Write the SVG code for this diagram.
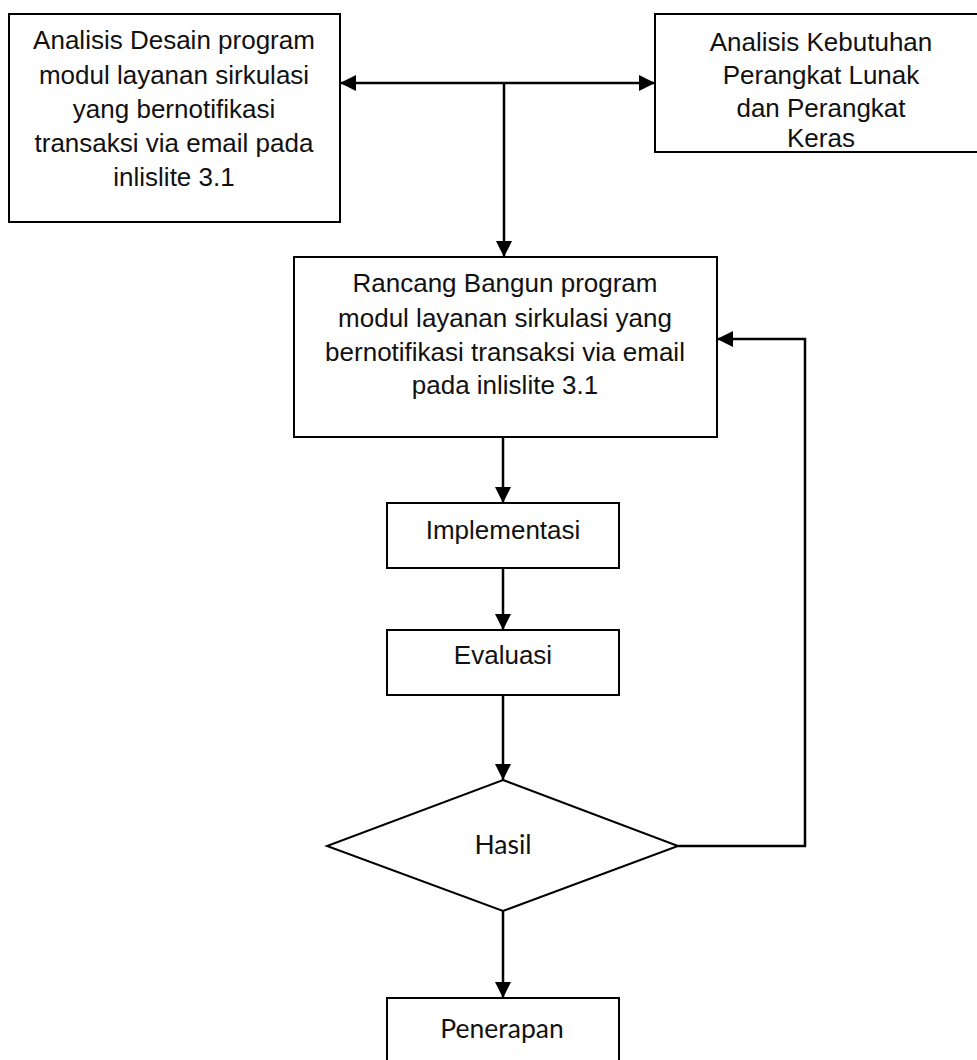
<svg xmlns="http://www.w3.org/2000/svg" width="977" height="1060" viewBox="0 0 977 1060">
<style>
.box{fill:#fff;stroke:#000;stroke-width:2}
.t{font-family:"Liberation Sans",Arial,sans-serif;font-size:26px;fill:#111;text-anchor:middle}
.c{font-family:Lato,"Open Sans",sans-serif;font-size:26.5px;fill:#111;text-anchor:middle}
.ln{fill:none;stroke:#000;stroke-width:2.5}
</style>
<defs>
<marker id="ah" markerUnits="userSpaceOnUse" markerWidth="16" markerHeight="16" refX="16" refY="8" orient="auto-start-reverse" viewBox="0 0 16 16">
<path d="M0,0 L16,8 L0,16 Z" fill="#000"/>
</marker>
</defs>
<rect width="977" height="1060" fill="#fff"/>
<g id="analisis-desain">
<rect class="box" x="9" y="14" width="331" height="208"/>
<text class="t" x="174" y="49">Analisis Desain program</text>
<text class="t" x="174" y="84">modul layanan sirkulasi</text>
<text class="t" x="174" y="118">yang bernotifikasi</text>
<text class="t" x="174" y="152">transaksi via email pada</text>
<text class="t" x="174" y="186">inlislite 3.1</text>
</g>
<g id="analisis-kebutuhan">
<rect class="box" x="655" y="14" width="330" height="138"/>
<text class="t" x="821" y="51">Analisis Kebutuhan</text>
<text class="t" x="821" y="84">Perangkat Lunak</text>
<text class="t" x="821" y="117">dan Perangkat</text>
<text class="t" x="821" y="147">Keras</text>
</g>
<g id="rancang-bangun">
<rect class="box" x="294" y="257" width="423" height="180"/>
<text class="t" x="505" y="292">Rancang Bangun program</text>
<text class="t" x="505" y="327">modul layanan sirkulasi yang</text>
<text class="t" x="505" y="361">bernotifikasi transaksi via email</text>
<text class="t" x="505" y="394">pada inlislite 3.1</text>
</g>
<g id="implementasi">
<rect class="box" x="387" y="503" width="232" height="65"/>
<text class="t" x="503" y="539">Implementasi</text>
</g>
<g id="evaluasi">
<rect class="box" x="387" y="630" width="232" height="65"/>
<text class="t" x="503" y="664">Evaluasi</text>
</g>
<g id="hasil">
<polygon class="box" points="503,780 678,846 503,911 327,846"/>
<text class="c" x="503" y="854">Hasil</text>
</g>
<g id="penerapan">
<rect class="box" x="387" y="998" width="232" height="80"/>
<text class="c" x="502" y="1038">Penerapan</text>
</g>
<g id="connectors">
<line class="ln" x1="340" y1="83" x2="655" y2="83" marker-start="url(#ah)" marker-end="url(#ah)"/>
<line class="ln" x1="504" y1="83" x2="504" y2="257" marker-end="url(#ah)"/>
<line class="ln" x1="503" y1="437" x2="503" y2="503" marker-end="url(#ah)"/>
<line class="ln" x1="503" y1="568" x2="503" y2="630" marker-end="url(#ah)"/>
<line class="ln" x1="503" y1="695" x2="503" y2="780" marker-end="url(#ah)"/>
<line class="ln" x1="503" y1="911" x2="503" y2="998" marker-end="url(#ah)"/>
<polyline class="ln" points="678,846 805,846 805,339 717,339" marker-end="url(#ah)"/>
</g>
</svg>
